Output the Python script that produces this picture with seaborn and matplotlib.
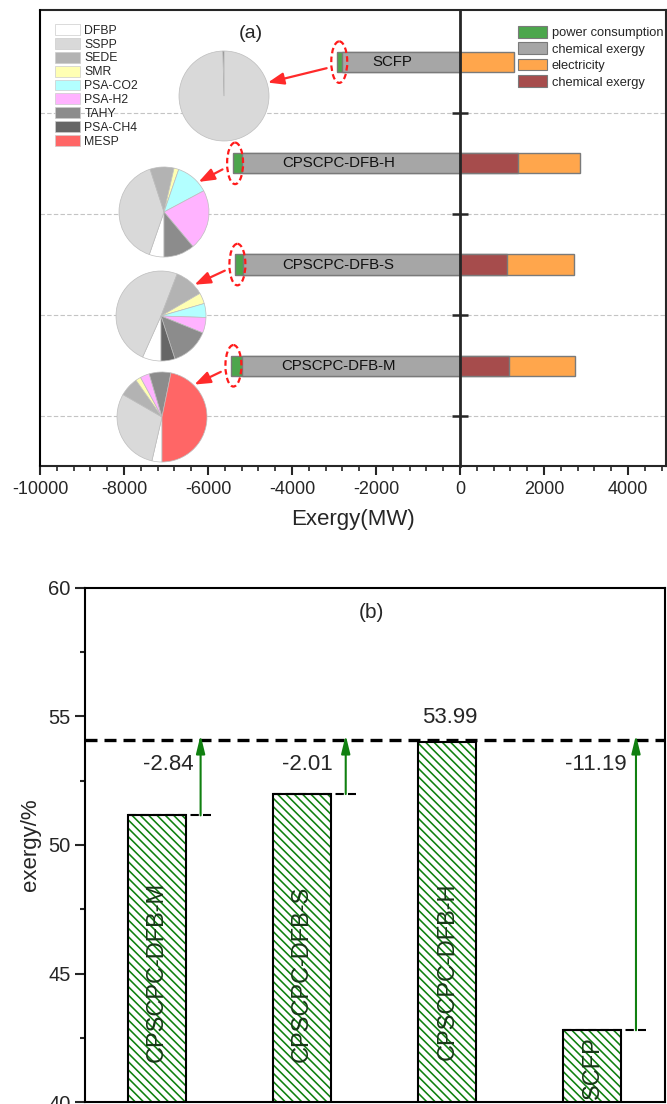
import numpy as np
import pandas as pd
import matplotlib
matplotlib.use("Agg")
import matplotlib.pyplot as plt
import seaborn as sns
from matplotlib.patches import Ellipse, Patch
from matplotlib.ticker import MultipleLocator

# ---------------- data: panel (a) ----------------
systems = ["SCFP", "CPSCPC-DFB-H", "CPSCPC-DFB-S", "CPSCPC-DFB-M"]
power_consumption = [120, 215, 185, 255]      # MW (input, left side)
chem_exergy_in = [2815, 5200, 5175, 5200]     # MW (input, left side)
chem_exergy_out = [0, 1375, 1125, 1175]       # MW (product, right side)
electricity = [1290, 1480, 1595, 1565]        # MW (product, right side)

units = ["DFBP", "SSPP", "SEDE", "SMR", "PSA-CO2", "PSA-H2", "TAHY", "PSA-CH4", "MESP"]
pie_scfp = [0, 99.6, 0, 0, 0, 0, 0, 0.4, 0]
pie_h = [5.3, 39.7, 8.6, 1.7, 11.9, 21.7, 11.1, 0, 0]
pie_s = [6.7, 49.2, 10.8, 3.9, 5.0, 5.6, 13.9, 5.0, 0]
pie_m = [3.6, 29.7, 6.9, 1.9, 0, 3.3, 7.8, 0, 46.8]

# ---------------- data: panel (b) ----------------
eff_systems = ["CPSCPC-DFB-M", "CPSCPC-DFB-S", "CPSCPC-DFB-H", "SCFP"]
efficiency = [51.15, 51.98, 53.99, 42.80]

# ---------------- style ----------------
sns.set_theme(style="white")
plt.rcParams["font.family"] = ["Liberation Sans", "DejaVu Sans"]
plt.rcParams["hatch.linewidth"] = 1.15
plt.rcParams["axes.linewidth"] = 1.5
plt.rcParams["axes.unicode_minus"] = False

unit_colors = ["#ffffff", "#d9d9d9", "#b3b3b3", "#ffffb3", "#b3ffff",
               "#ffb3ff", "#8c8c8c", "#666666", "#ff6666"]
c_power, c_chem_in, c_elec, c_chem_out = "#4ca64c", "#a6a6a6", "#ffa64c", "#a64c4c"
bar_edge = "#7a7a7a"

W, H = 667, 1104
def frac(l, t, r, b):
    return [l / W, 1 - b / H, (r - l) / W, (b - t) / H]

fig = plt.figure(figsize=(W / 100, H / 100), dpi=100)

# ================= panel (a) =================
ax = fig.add_axes(frac(40, 10, 666, 466))
neg_total = [-(p + c) for p, c in zip(power_consumption, chem_exergy_in)]
neg_chem = [-c for c in chem_exergy_in]
pos_total = [o + e for o, e in zip(chem_exergy_out, electricity)]

common = dict(y=systems, order=systems, orient="h", width=0.2, saturation=1,
              edgecolor=bar_edge, linewidth=1.0, errorbar=None, ax=ax)
sns.barplot(x=neg_total, color=c_power, **common)
sns.barplot(x=neg_chem, color=c_chem_in, **common)
sns.barplot(x=pos_total, color=c_elec, **common)
sns.barplot(x=chem_exergy_out, color=c_chem_out, **common)

ax.set_xlim(-10000, 4905)
ax.set_ylim(3.99, -0.515)
ax.set_yticks([0.5, 1.5, 2.5, 3.5])
ax.set_yticklabels([])
ax.set_ylabel("")
ax.spines["left"].set_position(("data", 0))
ax.spines["left"].set_linewidth(2.0)
ax.axvline(-10000, color="black", lw=1.5, clip_on=False, zorder=5)
ax.tick_params(axis="y", direction="inout", length=11, width=1.8, left=True)
ax.yaxis.grid(True, ls=(0, (4, 2)), color="#c4c4c4", lw=0.8)
ax.set_axisbelow(True)

ax.xaxis.set_major_locator(MultipleLocator(2000))
ax.xaxis.set_minor_locator(MultipleLocator(400))
ax.tick_params(axis="x", which="major", direction="out", length=6.5, width=1.5,
               labelsize=13, pad=4, bottom=True)
ax.tick_params(axis="x", which="minor", direction="out", length=3.6, width=1.2, bottom=True)
ax.set_xlabel("Exergy(MW)", fontsize=16, labelpad=8)

label_x = [-1600, -2900, -2900, -2900]
for i, s in enumerate(systems):
    ax.text(label_x[i], i, s, ha="center", va="center", fontsize=10.8, color="#111111", zorder=6)

# pies
pie_sets = [pie_scfp, pie_h, pie_s, pie_m]
pie_centers = [(224, 96), (164, 212), (161, 316), (162, 417)]
pie_start = [90, -90, -90, -90]
arrow_angle = [17, 41, 43, 45]
R = 45
pie_axes = []
for vals, (cx, cy), sa in zip(pie_sets, pie_centers, pie_start):
    pax = fig.add_axes(frac(cx - R, cy - R, cx + R, cy + R))
    v = [x for x in vals if x > 0]
    c = [col for x, col in zip(vals, unit_colors) if x > 0]
    pax.pie(v, colors=c, startangle=sa, counterclock=False, radius=1,
            wedgeprops=dict(edgecolor="#bdbdbd", linewidth=0.5))
    pax.set_xlim(-1, 1)
    pax.set_ylim(-1, 1)
    pax.set_facecolor("none")
    pax.axis("off")
    pie_axes.append(pax)

# dashed ellipses + arrows
for i in range(len(systems)):
    cx = neg_total[i] + 60
    ax.add_patch(Ellipse((cx, i), width=380, height=0.41, fill=False, ec="#ff1a1a",
                         ls=(0, (2.5, 1.5)), lw=1.6, zorder=7, clip_on=False))
    ang = np.deg2rad(arrow_angle[i])
    ax.annotate("", xy=(1.02 * np.cos(ang), 1.02 * np.sin(ang)), xycoords=pie_axes[i].transData,
                xytext=(cx - 300, i + 0.06), textcoords=ax.transData,
                arrowprops=dict(arrowstyle="-|>,head_length=0.8,head_width=0.3", color="#ff2a2a",
                                lw=1.6, shrinkA=0, shrinkB=0, mutation_scale=12),
                annotation_clip=False, zorder=8)

fig.text(251 / W, 1 - 33 / H, "(a)", ha="center", va="center", fontsize=14)

leg1 = fig.legend([Patch(facecolor=c, edgecolor="#cccccc", lw=0.5) for c in unit_colors], units,
                  loc="upper left", bbox_to_anchor=(55 / W, 1 - 24 / H), frameon=False,
                  fontsize=8.8, handlelength=2.05, handleheight=1.0, labelspacing=0.1,
                  handletextpad=0.35, borderpad=0, borderaxespad=0)
leg2 = fig.legend([Patch(facecolor=c, edgecolor=bar_edge, lw=0.8)
                   for c in [c_power, c_chem_in, c_elec, c_chem_out]],
                  ["power consumption", "chemical exergy", "electricity", "chemical exergy"],
                  loc="upper left", bbox_to_anchor=(518 / W, 1 - 26 / H), frameon=False,
                  fontsize=9.3, handlelength=2.25, handleheight=1.0, labelspacing=0.25,
                  handletextpad=0.35, borderpad=0, borderaxespad=0)

# ================= panel (b) =================
axb = fig.add_axes(frac(84.5, 587.7, 665, 1102.3))
hatch_green = "#0f800f"
sns.barplot(x=eff_systems, y=efficiency, order=eff_systems, color="white", width=0.4,
            saturation=1, linewidth=0, errorbar=None, ax=axb)
for p in axb.patches:
    p.set_hatch("\\" * 4)
    p.set_edgecolor(hatch_green)
    p.set_linewidth(0)
sns.barplot(x=eff_systems, y=efficiency, order=eff_systems, color="black", fill=False,
            width=0.4, linewidth=1.5, errorbar=None, ax=axb)

axb.set_xlim(-0.5, 3.5)
axb.set_ylim(40, 60)
axb.set_xticks([])
axb.set_xlabel("")
axb.yaxis.set_major_locator(MultipleLocator(5))
axb.yaxis.set_minor_locator(MultipleLocator(2.5))
axb.tick_params(axis="y", which="major", direction="out", length=7, width=1.5, labelsize=14.5, pad=3, left=True)
axb.tick_params(axis="y", which="minor", direction="out", length=3.6, width=1.5, left=True)
axb.set_ylabel("exergy/%", fontsize=16, labelpad=5)
for sp in axb.spines.values():
    sp.set_linewidth(1.5)
    sp.set_color("black")

best = max(efficiency)
ref_level = 54.07
axb.axhline(ref_level, color="black", lw=2.4, ls=(0, (3.6, 2.1)), zorder=6)

label_dx = [0.08, 0.035, 0.02, 0.025]
text_y = [45.05, 45.0, 45.1, 41.35]
for i, (s, v) in enumerate(zip(eff_systems, efficiency)):
    axb.text(i, text_y[i], s, rotation=90, ha="center", va="center", fontsize=17,
             color="#173817", zorder=7)
    if v == best:
        axb.text(i + label_dx[i], 54.97, f"{v:.2f}", ha="center", va="center", fontsize=16)
    else:
        axb.hlines(v, i - 0.2, i + 0.37, colors="black", lw=1.5, linestyles=(0, (4, 2)), zorder=6)
        axb.annotate("", xy=(i + 0.3, 54.27), xytext=(i + 0.3, v),
                     arrowprops=dict(arrowstyle="-|>,head_length=0.9,head_width=0.22",
                                     color="#108010", lw=1.5, shrinkA=0, shrinkB=0,
                                     mutation_scale=12), zorder=7)
        axb.text(i + label_dx[i], 53.12, f"{v - best:.2f}", ha="center", va="center", fontsize=16)

fig.text(371 / W, 1 - 612 / H, "(b)", ha="center", va="center", fontsize=15)

fig.savefig("out.png", dpi=100)
